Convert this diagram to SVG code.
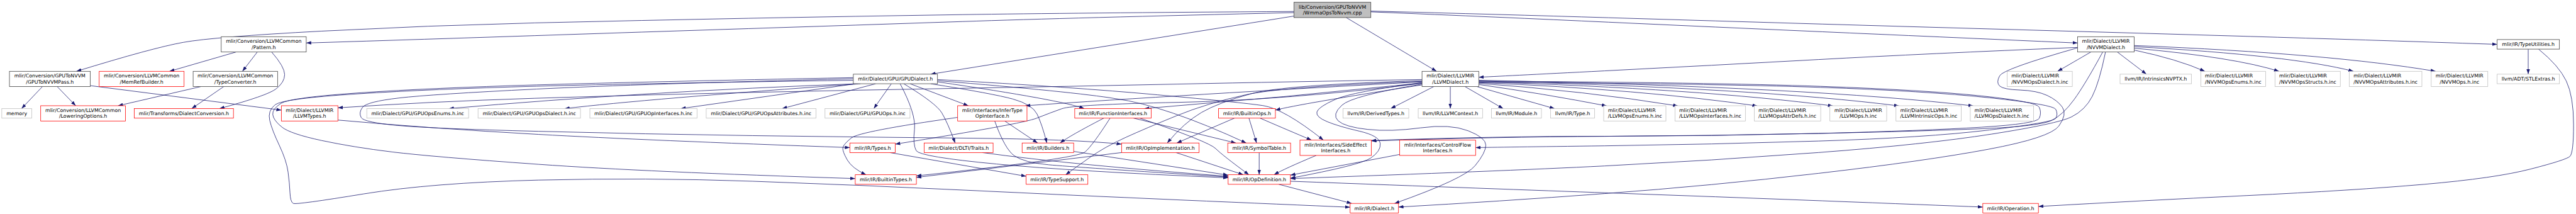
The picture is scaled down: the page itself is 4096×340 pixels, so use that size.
<svg xmlns="http://www.w3.org/2000/svg" width="4096" height="340" viewBox="0 0 4096 340">
<style>
.n rect{fill:#fff;stroke-width:1.3}
.nb rect{stroke:#404040}
.nr rect{stroke:#ff0000}
.ng rect{stroke:#bfbfbf}
.root rect{fill:#bfbfbf;stroke:#404040}
text{font-family:"DejaVu Sans","Liberation Sans",sans-serif;font-size:13px;fill:#000}
.c{text-anchor:middle}
#edges path{fill:none;stroke:#191970;stroke-width:1.3;marker-end:url(#a)}
</style>
<defs>
<marker id="a" viewBox="0 0 13 9" refX="13" refY="4.5" markerWidth="13" markerHeight="9" markerUnits="userSpaceOnUse" orient="auto"><path d="M0,0 L13,4.5 L0,9 z" fill="#191970"/></marker>
</defs>
<rect x="0" y="0" width="4096" height="340" fill="#fff"/>
<g transform="scale(0.6075)">
<g id="edges">
<path d="M3387,30 Q2800,34 2520,38.2 Q2240,42.4 1960,47.8 Q1680,53.2 1400,59.9 Q1120,66.5 840,81.5 Q560,96.4 480,110.7 Q400,125 200,186.5"/>
<path d="M3387,33 Q2800,46.8 2520,56.3 Q2240,65.8 1960,74.8 Q1680,83.8 1400,93.2 Q1120,102.5 801.5,112.5"/>
<path d="M3387,42 L2436,194"/>
<path d="M3523.6,46 L3760,186.5"/>
<path d="M3588,31 Q3930,45 4210,58 Q4490,70.9 4770,83.1 Q5050,95.3 5438,112.5"/>
<path d="M3588,29 Q3930,37.8 4210,46.3 Q4490,54.7 4770,63 Q5050,71.2 5330,79.1 Q5610,87 5890,95.3 Q6170,103.6 6536,116"/>
<path d="M618,136 L443.6,186.5"/>
<path d="M673.5,136 L634.5,186.5"/>
<path d="M711,136 Q745,175 745,195 Q745,215 722.5,232.5 Q700,250 574.5,284"/>
<path d="M111,226.5 L56.4,284"/>
<path d="M149.8,226.5 L198.2,276.5"/>
<path d="M236.4,224 L736.4,288"/>
<path d="M525.5,226.5 L309,276.5"/>
<path d="M585.5,226.5 L501.8,284"/>
<path d="M2245,219 Q1690,239 1175,284"/>
<path d="M2252,219 Q1690,259 1478,284"/>
<path d="M2240,219 L1782,284"/>
<path d="M2292,219 L2047,284"/>
<path d="M2333,219 L2287,284"/>
<path d="M2382,219 L2534.5,276.5"/>
<path d="M2365.5,219 Q2450,270 2465,295 Q2480,320 2500,374"/>
<path d="M2436,219 Q2600,245 2651,259 Q2702,273 2714.5,298.5 Q2727,324 2740,374"/>
<path d="M2453.8,211 Q2810,240 2920,258 Q3050,276 3262,374"/>
<path d="M2453.8,214 Q2780,262 2838,284"/>
<path d="M2356,219 Q2398,298.6 2393.5,338.2 Q2389,377.7 2398,393.9 Q2407,410 2608.5,429 Q2810,448 3214.5,465"/>
<path d="M2233.5,206 Q1680,219.4 1405,232.9 Q1130,246.4 1045,256.2 Q960,266 949,280.5 Q938,295 945.4,307.5 Q952.7,320 1041.4,328.2 Q1130,336.3 1410,343.5 Q1690,350.7 1970,354.7 Q2250,358.6 2530,361.3 Q2810,364 2935.6,377"/>
<path d="M2233.5,203 Q1680,214 1405,222 Q1130,230 945,242.5 Q760,255 736,270 Q712,285 714,300 Q716,315 738,332.5 Q760,350 842,367.5 Q924,385 1027,397.5 Q1130,410 1410,429.8 Q1690,449.6 2238.5,467"/>
<path d="M2233.5,210 Q1680,218 1405,225.5 Q1130,233 935,245.5 Q740,258 720,274 Q700,290 706,315 Q712,340 731,380 Q750,420 754,450 Q758,480 759,504 Q760,528 767.5,532 Q775,536 952.5,507 Q1130,478 1410,471 Q1690,464 1970,474 Q2250,484 2530,497.5 Q2810,511 3090,523 Q3370,535 3533.8,542"/>
<path d="M2453.8,208 Q2810,228 3030,248 Q3250,268 3305,276 Q3360,284 3464,366.5"/>
<path d="M3722,208 Q3360,214 3080,220 Q2800,226 2520,230.8 Q2240,235.6 1960,241.8 Q1680,248 1400,257 Q1120,266 884.4,282"/>
<path d="M3752.7,226.5 L3640,284"/>
<path d="M3796,226.5 L3796,284"/>
<path d="M3834.5,226.5 L3934.5,284"/>
<path d="M3866,226.5 L4069,284"/>
<path d="M3870.5,221 Q4040,245 4205.5,277"/>
<path d="M3870.5,218 Q4150,238 4392,277"/>
<path d="M3870.5,216 Q4300,234 4599.6,277"/>
<path d="M3870.5,214 Q4450,232 4797.5,277"/>
<path d="M3870.5,212 Q4600,230 4970.5,277"/>
<path d="M3870.5,210 Q4750,228 5165,277"/>
<path d="M3722,222 Q3400,272 3338.2,288"/>
<path d="M3722,217 Q3360,255 2995,284"/>
<path d="M3722,214 Q3100,248 2684,276.5"/>
<path d="M3722,218 Q3360,262 3085,267.7 Q2810,273.4 2779.5,284.2 Q2749,295 2712.5,309.4 Q2676,323.7 2343.3,377"/>
<path d="M3722,213 Q3360,226 3260,248 Q3160,270 3080,302.5 Q3000,335 2945,360 Q2890,385 2850,413.5 Q2810,442 2789,457"/>
<path d="M3722,211 Q3360,222 3275,245 Q3190,268 3145,294 Q3100,320 3055,374"/>
<path d="M3722,216 Q3540,240 3495,260 Q3450,280 3446.8,293 Q3443.6,306 3474.6,318.5 Q3505.5,331 3557.8,343 Q3610,355 3612.5,375 Q3615,395 3587.5,413.5 Q3560,432 3377.5,466"/>
<path d="M3722,220 Q3540,250 3512.5,275 Q3485,300 3502.5,316 Q3520,332 3580,338.5 Q3640,345 3718,334.4 Q3796,323.7 3842.5,341.9 Q3889,360 3889,379.5 Q3889,399 3860.9,433.3 Q3832.7,467.6 3650,532"/>
<path d="M3870.5,212 Q4490,216 4765,225.8 Q5040,235.6 5185.5,250.8 Q5331,266 5337.5,280.5 Q5344,295 5337.5,309.4 Q5331,323.7 5185.5,332.7 Q5040,341.7 4760,348.9 Q4480,356 4200,356.5 Q3920,356 3589.5,367.5"/>
<path d="M3870.5,215 Q4490,219 4765,228.5 Q5040,238 5207.3,255.7 Q5374.5,273.4 5380.8,286 Q5387,298.6 5380.8,309.3 Q5374.5,320 5207.3,340 Q5040,360 4760,368.9 Q4480,377.7 4200,381.4 Q3920,385 3862.2,386"/>
<path d="M5438,124 Q5040,140.3 4760,155.7 Q4480,171 4200,185.3 Q3920,199.6 3870.5,202"/>
<path d="M5472.7,136 L5385.5,186.5"/>
<path d="M5541.8,136 L5618,194"/>
<path d="M5586,131 Q5700,155 5771,186.5"/>
<path d="M5586,126 Q5850,150 5965,186.5"/>
<path d="M5586,122 Q6000,145 6160,186.5"/>
<path d="M5586,119 Q6100,140 6375,186.5"/>
<path d="M5438,125 Q5244,180 5234,198 Q5224,216 5234,225 Q5244,234 5287.5,235.5 Q5331,237 5358,249.5 Q5385,262 5398,280.3 Q5411,298.6 5389,329.3 Q5367,360 5203.5,390.5 Q5040,421 4760,453.3 Q4480,485.6 4200,506.3 Q3920,527 3660.4,541.5"/>
<path d="M5503.6,136 Q5458,220 5429,260 Q5400,300 5370,315 Q5340,330 5190,336.5 Q5040,343 4760,349 Q4480,355 4200,356.5 Q3920,358 3589.5,368.5"/>
<path d="M5510.9,136 Q5494.5,216 5476.3,251.9 Q5458,287.8 5421.8,305.8 Q5385.5,323.7 5212.8,350.7 Q5040,377.7 4760,398.9 Q4480,420 4200,434 Q3920,448 3377.5,467"/>
<path d="M6617.3,128.5 L6617.3,194"/>
<path d="M6644.4,128.5 Q6698,172 6717,212 Q6736,252 6736,326 Q6736,400 6726.5,409 Q6717,418 6624,442 Q6531,466 6345.5,482 Q6160,498 5880,511.5 Q5600,525 5335.3,540"/>
<path d="M884.4,314 Q1130,336 1410,351.5 Q1690,367 2224.4,386"/>
<path d="M2629.8,316.5 L2716,374"/>
<path d="M2603.6,316.5 Q2630,390 2655,407.5 Q2680,425 2745,431 Q2810,437 3214.5,463"/>
<path d="M2506.5,307 Q2250,343.5 2228.5,360.6 Q2207,377.7 2206,386.9 Q2205,396 2217.5,418 Q2230,440 2267,457"/>
<path d="M2889,309 Q2800,355 2774.5,374"/>
<path d="M2905.5,309 Q2860,380 2840,397.5 Q2820,415 2398.5,460"/>
<path d="M2967,309 L3235,374"/>
<path d="M2983.6,309 Q3163.6,370.5 3181.8,388.5 Q3200,406.5 3269,457"/>
<path d="M3231,309 L3080,374"/>
<path d="M3269,309 L3289,374"/>
<path d="M3298,309 Q3370,340 3433,366.5"/>
<path d="M3078,399 L3254.5,457"/>
<path d="M2935.6,399 L2398.5,464"/>
<path d="M2810.2,396 L3214.5,458"/>
<path d="M2571,399 Q2810,431.6 3214.5,461"/>
<path d="M2329,399 L2685.8,461"/>
<path d="M3295.8,399 L3295.8,457"/>
<path d="M3445,406.5 Q3360,442 3334.5,457"/>
<path d="M3663.3,404 L3377.5,458"/>
<path d="M3347,482 L3538,532"/>
<path d="M3377.5,474 Q3930,494.6 4210,504.5 Q4490,514.4 4770,525.2 Q5050,536 5189.8,541.5"/>
</g>
<g id="nodes">
<g id="n_root" class="n root"><rect x="3387" y="6" width="201" height="40"/><text class="c" x="3487.5" y="22.5">lib/Conversion/GPUToNVVM</text><text class="c" x="3487.5" y="38">/WmmaOpsToNvvm.cpp</text></g>
<g id="n_pattern" class="n nb"><rect x="579" y="96" width="222.5" height="40"/><text class="c" x="690.3" y="112.5">mlir/Conversion/LLVMCommon</text><text class="c" x="690.3" y="128">/Pattern.h</text></g>
<g id="n_nvvmdialect" class="n nb"><rect x="5438" y="96" width="148" height="40"/><text class="c" x="5512" y="112.5">mlir/Dialect/LLVMIR</text><text class="c" x="5512" y="128">/NVVMDialect.h</text></g>
<g id="n_typeutilities" class="n nb"><rect x="6536" y="103.5" width="163" height="25"/><text class="c" x="6617.5" y="120.5">mlir/IR/TypeUtilities.h</text></g>
<g id="n_gputonvvmpass" class="n nb"><rect x="24.7" y="186.5" width="211.7" height="40"/><text class="c" x="130.5" y="203">mlir/Conversion/GPUToNVVM</text><text class="c" x="130.5" y="218.5">/GPUToNVVMPass.h</text></g>
<g id="n_memrefbuilder" class="n nr"><rect x="259.6" y="186.5" width="222.2" height="40"/><text class="c" x="370.7" y="203">mlir/Conversion/LLVMCommon</text><text class="c" x="370.7" y="218.5">/MemRefBuilder.h</text></g>
<g id="n_typeconverter" class="n nb"><rect x="505.5" y="186.5" width="221" height="40"/><text class="c" x="616" y="203">mlir/Conversion/LLVMCommon</text><text class="c" x="616" y="218.5">/TypeConverter.h</text></g>
<g id="n_gpudialect" class="n nb"><rect x="2233.5" y="194" width="220.3" height="25"/><text class="c" x="2343.6" y="211">mlir/Dialect/GPU/GPUDialect.h</text></g>
<g id="n_llvmdialect" class="n nb"><rect x="3722" y="186.5" width="148.5" height="40"/><text class="c" x="3796.3" y="203">mlir/Dialect/LLVMIR</text><text class="c" x="3796.3" y="218.5">/LLVMDialect.h</text></g>
<g id="n_nvvmopsdialect" class="n ng"><rect x="5253.5" y="186.5" width="170.5" height="40"/><text x="5264.5" y="203">mlir/Dialect/LLVMIR</text><text x="5264.5" y="218.5">/NVVMOpsDialect.h.inc</text></g>
<g id="n_intrinsicsnvptx" class="n ng"><rect x="5549" y="194" width="187" height="25"/><text class="c" x="5642.5" y="211">llvm/IR/IntrinsicsNVPTX.h</text></g>
<g id="n_nvvmopsenums" class="n ng"><rect x="5760.4" y="186.5" width="169.8" height="40"/><text x="5771.4" y="203">mlir/Dialect/LLVMIR</text><text x="5771.4" y="218.5">/NVVMOpsEnums.h.inc</text></g>
<g id="n_nvvmopsstructs" class="n ng"><rect x="5954.5" y="186.5" width="171" height="40"/><text x="5965.5" y="203">mlir/Dialect/LLVMIR</text><text x="5965.5" y="218.5">/NVVMOpsStructs.h.inc</text></g>
<g id="n_nvvmopsattributes" class="n ng"><rect x="6149" y="186.5" width="190" height="40"/><text x="6160" y="203">mlir/Dialect/LLVMIR</text><text x="6160" y="218.5">/NVVMOpsAttributes.h.inc</text></g>
<g id="n_nvvmops" class="n ng"><rect x="6363.4" y="186.5" width="148.1" height="40"/><text class="c" x="6437.5" y="203">mlir/Dialect/LLVMIR</text><text class="c" x="6437.5" y="218.5">/NVVMOps.h.inc</text></g>
<g id="n_stlextras" class="n ng"><rect x="6536" y="194" width="163" height="25"/><text class="c" x="6617.5" y="211">llvm/ADT/STLExtras.h</text></g>
<g id="n_memory" class="n ng"><rect x="4.7" y="284" width="78.3" height="25"/><text class="c" x="43.8" y="301">memory</text></g>
<g id="n_loweringoptions" class="n nr"><rect x="106.5" y="276.5" width="221.9" height="40"/><text class="c" x="217.5" y="293">mlir/Conversion/LLVMCommon</text><text class="c" x="217.5" y="308.5">/LoweringOptions.h</text></g>
<g id="n_dialectconversion" class="n nr"><rect x="351.6" y="284" width="259.4" height="25"/><text class="c" x="481.3" y="301">mlir/Transforms/DialectConversion.h</text></g>
<g id="n_llvmtypes" class="n nr"><rect x="736.4" y="276.5" width="148" height="40"/><text class="c" x="810.4" y="293">mlir/Dialect/LLVMIR</text><text class="c" x="810.4" y="308.5">/LLVMTypes.h</text></g>
<g id="n_gpuopsenums" class="n ng"><rect x="960" y="284" width="266.5" height="25"/><text class="c" x="1093.3" y="301">mlir/Dialect/GPU/GPUOpsEnums.h.inc</text></g>
<g id="n_gpuopsdialect" class="n ng"><rect x="1251.3" y="284" width="268" height="25"/><text class="c" x="1385.3" y="301">mlir/Dialect/GPU/GPUOpsDialect.h.inc</text></g>
<g id="n_gpuopinterfaces" class="n ng"><rect x="1544" y="284" width="280.4" height="25"/><text class="c" x="1684.2" y="301">mlir/Dialect/GPU/GPUOpInterfaces.h.inc</text></g>
<g id="n_gpuopsattributes" class="n ng"><rect x="1848.4" y="284" width="287.2" height="25"/><text class="c" x="1992" y="301">mlir/Dialect/GPU/GPUOpsAttributes.h.inc</text></g>
<g id="n_gpuops" class="n ng"><rect x="2159.3" y="284" width="222.5" height="25"/><text class="c" x="2270.5" y="301">mlir/Dialect/GPU/GPUOps.h.inc</text></g>
<g id="n_infertype" class="n nr"><rect x="2506.5" y="276.5" width="181.5" height="40"/><text class="c" x="2597.3" y="293">mlir/Interfaces/InferType</text><text class="c" x="2597.3" y="308.5">OpInterface.h</text></g>
<g id="n_functioninterfaces" class="n nr"><rect x="2813" y="284" width="200" height="25"/><text class="c" x="2913" y="301">mlir/IR/FunctionInterfaces.h</text></g>
<g id="n_builtinops" class="n nr"><rect x="3189.5" y="284" width="148.7" height="25"/><text class="c" x="3263.9" y="301">mlir/IR/BuiltinOps.h</text></g>
<g id="n_derivedtypes" class="n ng"><rect x="3515.3" y="284" width="172" height="25"/><text class="c" x="3601.3" y="301">llvm/IR/DerivedTypes.h</text></g>
<g id="n_llvmcontext" class="n ng"><rect x="3712" y="284" width="168.4" height="25"/><text class="c" x="3796.2" y="301">llvm/IR/LLVMContext.h</text></g>
<g id="n_module" class="n ng"><rect x="3903.6" y="284" width="130.9" height="25"/><text class="c" x="3969" y="301">llvm/IR/Module.h</text></g>
<g id="n_type" class="n ng"><rect x="4058.5" y="284" width="115" height="25"/><text class="c" x="4116" y="301">llvm/IR/Type.h</text></g>
<g id="n_llvmopsenums" class="n ng"><rect x="4197.5" y="276.5" width="162.9" height="40"/><text x="4208.5" y="293">mlir/Dialect/LLVMIR</text><text x="4208.5" y="308.5">/LLVMOpsEnums.h.inc</text></g>
<g id="n_llvmopsinterfaces" class="n ng"><rect x="4384" y="276.5" width="184.4" height="40"/><text x="4395" y="293">mlir/Dialect/LLVMIR</text><text x="4395" y="308.5">/LLVMOpsInterfaces.h.inc</text></g>
<g id="n_llvmopsattrdefs" class="n ng"><rect x="4591.6" y="276.5" width="173.9" height="40"/><text x="4602.6" y="293">mlir/Dialect/LLVMIR</text><text x="4602.6" y="308.5">/LLVMOpsAttrDefs.h.inc</text></g>
<g id="n_llvmopsinc" class="n ng"><rect x="4789.5" y="276.5" width="148.7" height="40"/><text class="c" x="4863.9" y="293">mlir/Dialect/LLVMIR</text><text class="c" x="4863.9" y="308.5">/LLVMOps.h.inc</text></g>
<g id="n_llvmintrinsicops" class="n ng"><rect x="4962.5" y="276.5" width="171" height="40"/><text x="4973.5" y="293">mlir/Dialect/LLVMIR</text><text x="4973.5" y="308.5">/LLVMIntrinsicOps.h.inc</text></g>
<g id="n_llvmopsdialect" class="n ng"><rect x="5157" y="276.5" width="165.5" height="40"/><text x="5168" y="293">mlir/Dialect/LLVMIR</text><text x="5168" y="308.5">/LLVMOpsDialect.h.inc</text></g>
<g id="n_types" class="n nr"><rect x="2224.4" y="374" width="118.9" height="25"/><text class="c" x="2283.9" y="391">mlir/IR/Types.h</text></g>
<g id="n_dltitraits" class="n nr"><rect x="2418.9" y="374" width="180.4" height="25"/><text class="c" x="2509.1" y="391">mlir/Dialect/DLTI/Traits.h</text></g>
<g id="n_builders" class="n nr"><rect x="2675.3" y="374" width="134.9" height="25"/><text class="c" x="2742.8" y="391">mlir/IR/Builders.h</text></g>
<g id="n_opimplementation" class="n nr"><rect x="2935.6" y="374" width="202.9" height="25"/><text class="c" x="3037" y="391">mlir/IR/OpImplementation.h</text></g>
<g id="n_symboltable" class="n nr"><rect x="3213.5" y="374" width="164.5" height="25"/><text class="c" x="3295.8" y="391">mlir/IR/SymbolTable.h</text></g>
<g id="n_sideeffect" class="n nr"><rect x="3402.5" y="366.5" width="187" height="40"/><text class="c" x="3496" y="383">mlir/Interfaces/SideEffect</text><text class="c" x="3496" y="398.5">Interfaces.h</text></g>
<g id="n_controlflow" class="n nr"><rect x="3663.3" y="366.5" width="198.9" height="40"/><text class="c" x="3762.8" y="383">mlir/Interfaces/ControlFlow</text><text class="c" x="3762.8" y="398.5">Interfaces.h</text></g>
<g id="n_builtintypes" class="n nr"><rect x="2238.5" y="457" width="160" height="25"/><text class="c" x="2318.5" y="474">mlir/IR/BuiltinTypes.h</text></g>
<g id="n_typesupport" class="n nr"><rect x="2685.8" y="457" width="161.5" height="25"/><text class="c" x="2766.6" y="474">mlir/IR/TypeSupport.h</text></g>
<g id="n_opdefinition" class="n nr"><rect x="3214.5" y="457" width="163" height="25"/><text class="c" x="3296" y="474">mlir/IR/OpDefinition.h</text></g>
<g id="n_dialect" class="n nr"><rect x="3533.8" y="532" width="126.6" height="25"/><text class="c" x="3597.1" y="549">mlir/IR/Dialect.h</text></g>
<g id="n_operation" class="n nr"><rect x="5189.8" y="532" width="145.5" height="25"/><text class="c" x="5262.6" y="549">mlir/IR/Operation.h</text></g>
</g>
</g>
</svg>
